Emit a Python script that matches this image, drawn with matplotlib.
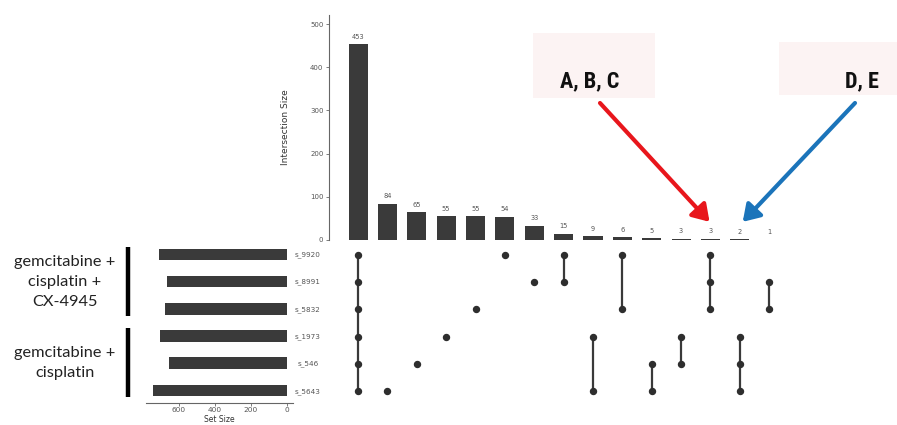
import matplotlib
matplotlib.use("Agg")
import matplotlib.pyplot as plt
import matplotlib.transforms as mtransforms
from matplotlib.patches import Rectangle
from matplotlib.lines import Line2D
from matplotlib import font_manager

# ---------------- data ----------------
sets = ['s_9920', 's_8991', 's_5832', 's_1973', 's_546', 's_5643']
set_sizes = [711, 667, 678, 705, 655, 744]
intersection_sizes = [453, 84, 65, 55, 55, 54, 33, 15, 9, 6, 5, 3, 3, 2, 1]
memberships = [
    ['s_9920', 's_8991', 's_5832', 's_1973', 's_546', 's_5643'],
    ['s_5643'],
    ['s_546'],
    ['s_1973'],
    ['s_5832'],
    ['s_9920'],
    ['s_8991'],
    ['s_9920', 's_8991'],
    ['s_1973', 's_5643'],
    ['s_9920', 's_5832'],
    ['s_546', 's_5643'],
    ['s_1973', 's_546'],
    ['s_9920', 's_8991', 's_5832'],
    ['s_1973', 's_546', 's_5643'],
    ['s_8991', 's_5832'],
]
bar_ticks = [0, 100, 200, 300, 400, 500]
set_ticks = [600, 400, 200, 0]
group_labels = ['gemcitabine +\ncisplatin +\nCX-4945', 'gemcitabine +\ncisplatin']
group_rows = [(0, 2), (3, 5)]
annot_labels = ['A, B, C', 'D, E']
annot_targets = [12, 13]

# pick a condensed font if available
avail = {f.name for f in font_manager.fontManager.ttflist}
cond_font, cond_size, cond_stretch = 'DejaVu Sans', 13, 'normal'
for name, size in [('Liberation Sans Narrow', 17), ('Roboto Condensed', 16),
                   ('DejaVu Sans Condensed', 14), ('Open Sans Condensed', 16)]:
    if name in avail:
        cond_font, cond_size = name, size
        break
else:
    cond_stretch = 'condensed'

# ---------------- layout ----------------
W, H = 897, 425
fig = plt.figure(figsize=(W / 100, H / 100), dpi=100)

def ax_px(l, t, r, b):
    return fig.add_axes([l / W, 1 - b / H, (r - l) / W, (b - t) / H])

DARK = '#3a3a3a'
TXT = '#555555'

# intersection bar chart
ax_bar = ax_px(329, 15, 785, 240)
n = len(intersection_sizes)
xs = list(range(n))
ax_bar.bar(xs, intersection_sizes, width=0.65, color=DARK)
for x, v in zip(xs, intersection_sizes):
    ax_bar.text(x, v + 10, str(v), ha='center', va='bottom', fontsize=4.8, color=TXT)
ax_bar.set_xlim(-0.99, 14.54)
ax_bar.set_ylim(0, 521)
for s in ['top', 'right', 'bottom']:
    ax_bar.spines[s].set_visible(False)
ax_bar.spines['left'].set_color('#666666')
ax_bar.spines['left'].set_linewidth(0.8)
ax_bar.set_yticks(bar_ticks)
ax_bar.set_yticklabels([str(t) for t in bar_ticks])
ax_bar.tick_params(axis='y', length=2, width=0.6, color='#666666', pad=2,
                   labelsize=5, labelcolor=TXT)
ax_bar.set_xticks([])
ax_bar.set_ylabel('Intersection Size', fontsize=6.5, color='#333333')
ax_bar.yaxis.set_label_coords((290 - 329) / 456, 0.5)

# matrix
ax_mat = ax_px(329, 241, 785, 405)
ax_mat.set_xlim(-0.99, 14.54)
ax_mat.set_ylim(5.5, -0.5)
ax_mat.axis('off')
row_of = {s: i for i, s in enumerate(sets)}
for x, mem in enumerate(memberships):
    rows = sorted(row_of[s] for s in mem)
    if len(rows) > 1:
        ax_mat.plot([x, x], [rows[0], rows[-1]], color=DARK, lw=1.6, zorder=1)
    ax_mat.plot([x] * len(rows), rows, 'o', color='#2e2e2e', ms=4.3, zorder=2)
trans_set_lab = mtransforms.blended_transform_factory(fig.transFigure, ax_mat.transData)
for i, s in enumerate(sets):
    t = ax_mat.text(308 / W, i, s, ha='center', va='center', fontsize=5.2, color=TXT,
                    transform=trans_set_lab)
    t.set_clip_on(False)

# set size bars
ax_set = ax_px(146, 241, 293, 403)
ax_set.barh(range(len(sets)), set_sizes, height=0.42, color=DARK)
ax_set.set_ylim(5.47, -0.5)
ax_set.set_xlim(783, -33)
for s in ['top', 'right', 'left']:
    ax_set.spines[s].set_visible(False)
ax_set.spines['bottom'].set_color('#666666')
ax_set.spines['bottom'].set_linewidth(0.8)
ax_set.set_xticks(set_ticks)
ax_set.set_xticklabels([str(t) for t in set_ticks])
ax_set.tick_params(axis='x', length=2, width=0.6, color='#666666', pad=1,
                   labelsize=5.3, labelcolor=TXT)
ax_set.set_yticks([])
ax_set.set_xlabel('Set Size', fontsize=5.5, color='#333333', va='top')
ax_set.xaxis.set_label_coords(0.5, -(415.5 - 403) / 162)

# group labels with black brackets
trans_lab = mtransforms.blended_transform_factory(fig.transFigure, ax_set.transData)
for lab, (r0, r1) in zip(group_labels, group_rows):
    yc = (r0 + r1) / 2
    ax_set.text(65 / W, yc, lab, transform=trans_lab, ha='center', va='center',
                fontsize=11.8, family=['Lato', 'DejaVu Sans'], color='#222222',
                linespacing=1.55)
    ln = Line2D([128 / W, 128 / W], [r0 - 0.28, r1 + 0.25], transform=trans_lab,
                color='black', lw=3.2, solid_capstyle='butt')
    ln.set_clip_on(False)
    ax_set.add_line(ln)

# annotation boxes
boxes = [(533, 33, 655, 98), (779, 42, 897, 95)]
text_x = [590, 862]
arrow_starts = [(600, 103), (855, 103)]
arrow_ends_dx = [-0.03, 0.1]
arrow_colors = ['#e8161c', '#1b74ba']
for lab, (l, t, r, b), tx, (sx, sy), col, tgt, dx in zip(
        annot_labels, boxes, text_x, arrow_starts, arrow_colors, annot_targets,
        arrow_ends_dx):
    fig.patches.append(Rectangle((l / W, 1 - b / H), (r - l) / W, (b - t) / H,
                                 transform=fig.transFigure, facecolor='#fcf3f3',
                                 edgecolor='none', zorder=0))
    fig.text(tx / W, 1 - 87 / H, lab, ha='center', va='baseline', fontsize=cond_size,
             fontweight='bold', fontstretch=cond_stretch,
             family=[cond_font, 'DejaVu Sans'], color='#111111')
    ax_bar.annotate('', xy=(tgt + dx, 42), xycoords='data',
                    xytext=(sx, H - sy), textcoords='figure pixels',
                    arrowprops=dict(arrowstyle='-|>,head_length=0.7,head_width=0.45',
                                    color=col, lw=3, mutation_scale=14,
                                    shrinkA=0, shrinkB=0),
                    annotation_clip=False)

fig.savefig('out.png', dpi=100)
